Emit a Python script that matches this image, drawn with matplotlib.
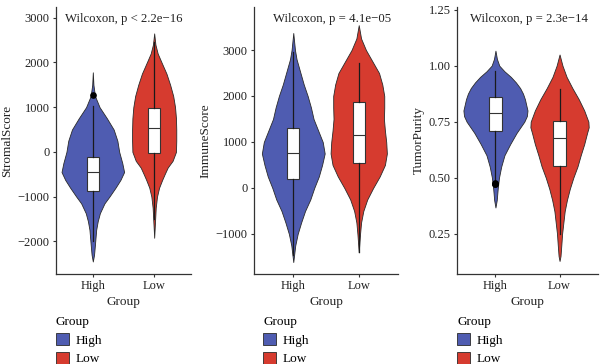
import numpy as np
import matplotlib
matplotlib.use("Agg")
import matplotlib.pyplot as plt
from matplotlib.patches import Patch

plt.rcParams['font.family'] = ['Liberation Serif', 'DejaVu Serif']

groups = ['High', 'Low']
colors = ['#4f5cb1', '#d63b2f']

# violin outlines: value -> half width (in category units)
stromal_high_y = [1780, 1500, 1250, 1000, 750, 500, 250, 0, -250, -450, -626, -800, -1000, -1150, -1370, -1550, -1740, -2100, -2300, -2450]
stromal_high_w = [0, 0.01, 0.035, 0.11, 0.23, 0.34, 0.40, 0.43, 0.48, 0.51, 0.45, 0.37, 0.27, 0.19, 0.115, 0.08, 0.055, 0.033, 0.02, 0]
stromal_low_y = [2650, 2400, 2200, 2000, 1750, 1500, 1250, 1000, 750, 500, 250, 0, -200, -350, -500, -626, -800, -1000, -1250, -1600, -1920]
stromal_low_w = [0, 0.02, 0.057, 0.12, 0.2, 0.26, 0.31, 0.34, 0.355, 0.36, 0.36, 0.355, 0.3, 0.22, 0.17, 0.13, 0.08, 0.046, 0.025, 0.012, 0]

immune_high_y = [3370, 3000, 2800, 2500, 2250, 2000, 1750, 1500, 1250, 1000, 750, 500, 250, 0, -250, -500, -750, -1000, -1250, -1610]
immune_high_w = [0, 0.026, 0.05, 0.11, 0.16, 0.22, 0.27, 0.31, 0.38, 0.45, 0.48, 0.44, 0.39, 0.32, 0.26, 0.18, 0.12, 0.067, 0.03, 0]
immune_low_y = [3540, 3250, 3000, 2750, 2500, 2250, 2000, 1750, 1500, 1250, 1000, 750, 500, 250, 0, -250, -500, -750, -1000, -1400]
immune_low_w = [0, 0.036, 0.11, 0.21, 0.31, 0.36, 0.39, 0.39, 0.385, 0.40, 0.42, 0.43, 0.40, 0.32, 0.22, 0.13, 0.07, 0.036, 0.02, 0]

purity_high_y = [1.067, 1.03, 1.0, 0.975, 0.95, 0.925, 0.9, 0.875, 0.85, 0.8, 0.775, 0.75, 0.725, 0.7, 0.65, 0.6, 0.55, 0.5, 0.45, 0.4, 0.367]
purity_high_w = [0, 0.023, 0.06, 0.14, 0.24, 0.32, 0.385, 0.43, 0.46, 0.5, 0.49, 0.45, 0.39, 0.33, 0.23, 0.14, 0.09, 0.055, 0.035, 0.02, 0]
purity_low_y = [1.05, 1.0, 0.95, 0.9, 0.85, 0.8, 0.75, 0.725, 0.7, 0.65, 0.6, 0.55, 0.5, 0.45, 0.4, 0.35, 0.3, 0.25, 0.2, 0.15, 0.128]
purity_low_w = [0, 0.046, 0.11, 0.2, 0.3, 0.385, 0.45, 0.455, 0.43, 0.385, 0.33, 0.28, 0.215, 0.16, 0.115, 0.08, 0.06, 0.04, 0.028, 0.015, 0]

# box stats: q1, median, q3, whisker low, whisker high
stromal_box = [[-870, -450, -110, -2000, 1030], [-20, 540, 985, -1500, 2450]]
stromal_fliers = [[1280], []]
immune_box = [[195, 760, 1300, -1450, 2950], [545, 1150, 1870, -1400, 2710]]
immune_fliers = [[], []]
purity_box = [[0.71, 0.788, 0.861, 0.49, 0.975], [0.55, 0.675, 0.754, 0.25, 0.897]]
purity_fliers = [[0.470, 0.474, 0.478], []]

titles = ['Wilcoxon, p < 2.2e\u221216', 'Wilcoxon, p = 4.1e\u221205', 'Wilcoxon, p = 2.3e\u221214']
ylabels = ['StromalScore', 'ImmuneScore', 'TumorPurity']
yticks = [[-2000, -1000, 0, 1000, 2000, 3000],
          [-1000, 0, 1000, 2000, 3000],
          [0.25, 0.50, 0.75, 1.00, 1.25]]
ytick_labels = [['\u22122000', '\u22121000', '0', '1000', '2000', '3000'],
                ['\u22121000', '0', '1000', '2000', '3000'],
                ['0.25', '0.50', '0.75', '1.00', '1.25']]
ylims = [(-2730, 3240), (-1870, 3935), (0.07, 1.262)]

violins = [[(stromal_high_y, stromal_high_w), (stromal_low_y, stromal_low_w)],
           [(immune_high_y, immune_high_w), (immune_low_y, immune_low_w)],
           [(purity_high_y, purity_high_w), (purity_low_y, purity_low_w)]]
boxes = [stromal_box, immune_box, purity_box]
fliers = [stromal_fliers, immune_fliers, purity_fliers]

fig = plt.figure(figsize=(6, 3.64), dpi=100)
lefts = [56, 254, 457]
widths = [135, 144, 141]
title_x = [0.07, 0.13, 0.09]
legend_x = [56, 263, 457]
dark = '#333333'

for k in range(3):
    ax = fig.add_axes([lefts[k] / 600, 90 / 364, widths[k] / 600, 267 / 364])
    for i in range(2):
        y = np.array(violins[k][i][0])
        w = np.array(violins[k][i][1])
        ax.fill_betweenx(y, i + 1 - w, i + 1 + w, facecolor=colors[i],
                         edgecolor='#2a2a2a', linewidth=0.6, zorder=1)
    stats = []
    for i in range(2):
        q1, med, q3, lo, hi = boxes[k][i]
        stats.append({'q1': q1, 'med': med, 'q3': q3, 'whislo': lo,
                      'whishi': hi, 'fliers': fliers[k][i]})
    ax.bxp(stats, positions=[1, 2], widths=0.19, patch_artist=True,
           showcaps=False, manage_ticks=False, zorder=2,
           boxprops=dict(facecolor='white', edgecolor=dark, linewidth=0.8),
           medianprops=dict(color=dark, linewidth=0.8),
           whiskerprops=dict(color='#1a1a1a', linewidth=0.9),
           flierprops=dict(marker='o', markerfacecolor='black',
                           markeredgecolor='black', markersize=3.8))
    ax.set_xlim(0.4, 2.6)
    ax.set_ylim(*ylims[k])
    ax.set_xticks([1, 2])
    ax.set_xticklabels(groups)
    ax.set_yticks(yticks[k])
    ax.set_yticklabels(ytick_labels[k])
    for s in ['top', 'right']:
        ax.spines[s].set_visible(False)
    for s in ['left', 'bottom']:
        ax.spines[s].set_color(dark)
        ax.spines[s].set_linewidth(0.9)
    ax.tick_params(length=2.5, width=0.8, color=dark, labelsize=9,
                   labelcolor='#222222', pad=2)
    ax.set_xlabel('Group', fontsize=9.5, color='#222222', labelpad=3)
    ax.set_ylabel(ylabels[k], fontsize=9.5, color='#222222', labelpad=3)
    ax.text(title_x[k], 0.955, titles[k], transform=ax.transAxes,
            fontsize=9.2, color='#222222', va='center', ha='left')
    handles = [Patch(facecolor=colors[i], edgecolor='#2a2a2a', linewidth=0.6)
               for i in range(2)]
    ax.legend(handles, groups, title='Group', loc='upper left',
              bbox_to_anchor=(legend_x[k] / 600, 1 - 316 / 364),
              bbox_transform=fig.transFigure, frameon=False,
              fontsize=9.5, title_fontsize=9.5, alignment='left',
              borderpad=0, borderaxespad=0, handlelength=1.0,
              handleheight=1.0, handletextpad=0.5, labelspacing=0.4)

fig.savefig('out.png', dpi=100)
